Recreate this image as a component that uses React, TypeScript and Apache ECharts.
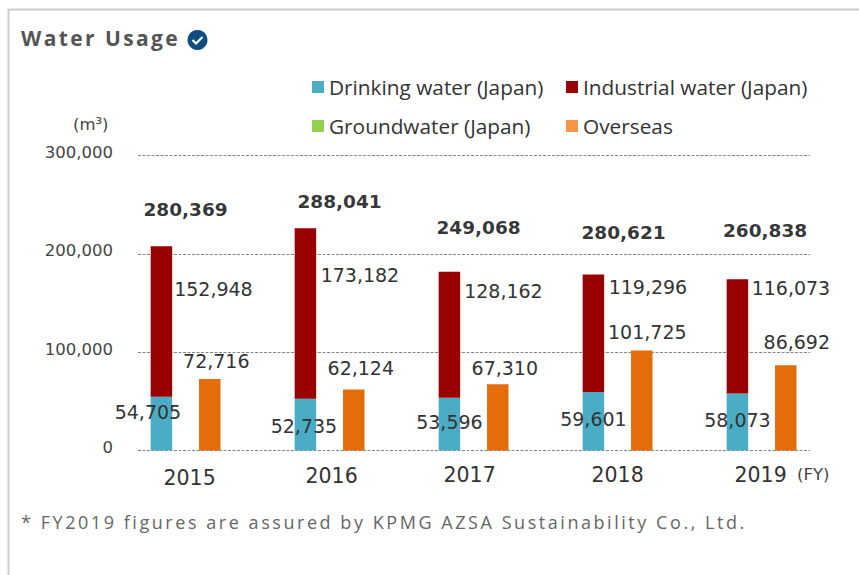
import React, { useEffect, useRef } from "react";
import * as echarts from "echarts";

const years = ["2015", "2016", "2017", "2018", "2019"];
const drinking = [54705, 52735, 53596, 59601, 58073];
const industrial = [152948, 173182, 128162, 119296, 116073];
const groundwater = [0, 0, 0, 0, 0];
const overseas = [72716, 62124, 67310, 101725, 86692];
const totals = [280369, 288041, 249068, 280621, 260838];
const yTicks = { min: 0, max: 300000, interval: 100000 };

const titleText = "Water Usage";
const noteText = "* FY2019 figures are assured by KPMG AZSA Sustainability Co., Ltd.";

// Hand placement of the labels, as in the reference (dx, dy in pixels)
const drinkingOffsets = [[-13.5, -12], [-1.5, 1], [0, -2], [0, -2], [0, -1.5]];
const industrialOffsets = [[52, -33], [54.5, -38], [54, -43.5], [54.5, -46], [53.5, -48]];
const overseasOffsets = [[6.5, -3], [7, -7], [7, -2], [5.5, -4], [11, -9]];
const totalOffsets = [[0, -22], [10, -12], [5, -30], [6, -28], [3.5, -34]];
const yearPadding = [[3, 0, 0, 8], [1, 0, 0, 4], [0, 8, 0, 0], [0, 0, 0, 0], [0, 2, 0, 0]];

const fmt = (v: number) => v.toLocaleString("en-US");
const NUM = "'DejaVu Sans'";
const UI = "'Open Sans'";

const withLabel = (values: number[], offsets: number[][], position: string) =>
  values.map((value, i) => ({
    value,
    label: { show: true, position, offset: offsets[i], formatter: fmt(value) },
  }));

const numberLabel = { color: "#333", fontFamily: NUM, fontSize: 19 };
const legendBase = {
  top: 73,
  padding: 0,
  orient: "vertical",
  icon: "rect",
  itemWidth: 12,
  itemHeight: 12,
  itemGap: 11,
  textStyle: { fontFamily: UI, fontSize: 20.8, color: "#333", lineHeight: 28 },
};

const option: any = {
  animation: false,
  backgroundColor: "#fff",
  grid: [
    { left: 113.6, width: 720, top: 155.5, height: 295 },
    { left: 138, width: 672, top: 155.5, height: 295 },
  ],
  xAxis: [
    {
      type: "category",
      gridIndex: 0,
      data: years,
      axisLine: { show: false },
      axisTick: { show: false },
      axisLabel: {
        margin: 14,
        formatter: (v: string) => `{y${years.indexOf(v)}|${v}}`,
        rich: Object.fromEntries(
          years.map((_, i) => [
            `y${i}`,
            { padding: yearPadding[i], fontFamily: NUM, fontSize: 20.5, color: "#333" },
          ]),
        ),
      },
    },
    { type: "value", gridIndex: 1, min: 0, max: 1, show: false },
  ],
  yAxis: [
    { type: "value", gridIndex: 0, ...yTicks, show: false },
    {
      type: "value",
      gridIndex: 1,
      ...yTicks,
      axisLine: { show: false },
      axisTick: { show: false },
      axisLabel: {
        margin: 25,
        formatter: (v: number) => fmt(v),
        fontFamily: NUM,
        fontSize: 16.5,
        color: "#444",
        verticalAlign: "bottom",
        lineHeight: 6,
      },
      splitLine: { show: true, lineStyle: { type: [3, 1.5], color: "#888", width: 1 } },
    },
  ],
  legend: [
    {
      ...legendBase,
      left: 312,
      data: [
        { name: "Drinking water (Japan)", itemStyle: { color: "#4BACC6" } },
        { name: "Groundwater (Japan)", itemStyle: { color: "#92D050" } },
      ],
    },
    {
      ...legendBase,
      left: 566,
      data: [
        { name: "Industrial water (Japan)", itemStyle: { color: "#990000" } },
        { name: "Overseas", itemStyle: { color: "#F79646" } },
      ],
    },
  ],
  series: [
    {
      name: "Drinking water (Japan)",
      type: "bar",
      stack: "japan",
      barWidth: 21.5,
      barGap: "125%",
      itemStyle: { color: "#4BACC6" },
      label: numberLabel,
      data: withLabel(drinking, drinkingOffsets, "inside"),
    },
    {
      name: "Industrial water (Japan)",
      type: "bar",
      stack: "japan",
      itemStyle: { color: "#990000" },
      label: numberLabel,
      data: withLabel(industrial, industrialOffsets, "inside"),
    },
    {
      name: "Groundwater (Japan)",
      type: "bar",
      stack: "japan",
      itemStyle: { color: "#92D050" },
      data: groundwater,
    },
    {
      name: "Overseas",
      type: "bar",
      barWidth: 21.5,
      itemStyle: { color: "#E46C0A" },
      label: numberLabel,
      data: withLabel(overseas, overseasOffsets, "top"),
    },
    {
      name: "Total",
      type: "scatter",
      symbolSize: 0,
      z: 5,
      data: totals.map((t, i) => ({
        value: drinking[i] + industrial[i] + groundwater[i],
        label: {
          show: true,
          position: "top",
          offset: totalOffsets[i],
          formatter: fmt(t),
          color: "#000",
          textBorderWidth: 0,
          fontFamily: NUM,
          fontWeight: "bold",
          fontSize: 18.5,
        },
      })),
    },
  ],
  graphic: [
    { type: "line", shape: { x1: 8.5, y1: 9.5, x2: 859, y2: 9.5 }, style: { stroke: "#ccc", lineWidth: 2 } },
    { type: "line", shape: { x1: 8.5, y1: 9, x2: 8.5, y2: 575 }, style: { stroke: "#ccc", lineWidth: 2 } },
    {
      type: "text",
      x: 21,
      y: 38,
      style: { text: titleText, font: `bold 21px ${UI}`, fill: "#555", textVerticalAlign: "middle" },
    },
    { type: "circle", shape: { cx: 197.5, cy: 40, r: 10 }, style: { fill: "#0F4C81" } },
    {
      type: "polyline",
      shape: { points: [[192.5, 40], [196, 43.5], [202.5, 37]] },
      style: { stroke: "#fff", lineWidth: 2.2, fill: "none" },
    },
    {
      type: "text",
      x: 73,
      y: 124,
      style: { text: "(m³)", font: `16.5px ${NUM}`, fill: "#444", textVerticalAlign: "middle" },
    },
    {
      type: "text",
      x: 797,
      y: 474.5,
      style: { text: "(FY)", font: `16.5px ${NUM}`, fill: "#444", textVerticalAlign: "middle" },
    },
    {
      type: "text",
      x: 21,
      y: 522,
      style: { text: noteText, font: `18px ${UI}`, fill: "#666", textVerticalAlign: "middle" },
    },
  ],
};

const spacing: Record<string, string> = { [titleText]: "2.4px", [noteText]: "2.55px" };

export default function App() {
  const ref = useRef<HTMLDivElement>(null);
  useEffect(() => {
    document.body.style.margin = "0";
    const chart = echarts.init(ref.current!, undefined, { renderer: "svg" });
    chart.setOption(option);
    const applySpacing = () => {
      ref.current?.querySelectorAll("text").forEach((t) => {
        const s = spacing[t.textContent ?? ""];
        if (s) t.setAttribute("letter-spacing", s);
      });
    };
    applySpacing();
    chart.on("finished", applySpacing);
    return () => chart.dispose();
  }, []);
  return <div ref={ref} style={{ width: 859, height: 575 }} />;
}
